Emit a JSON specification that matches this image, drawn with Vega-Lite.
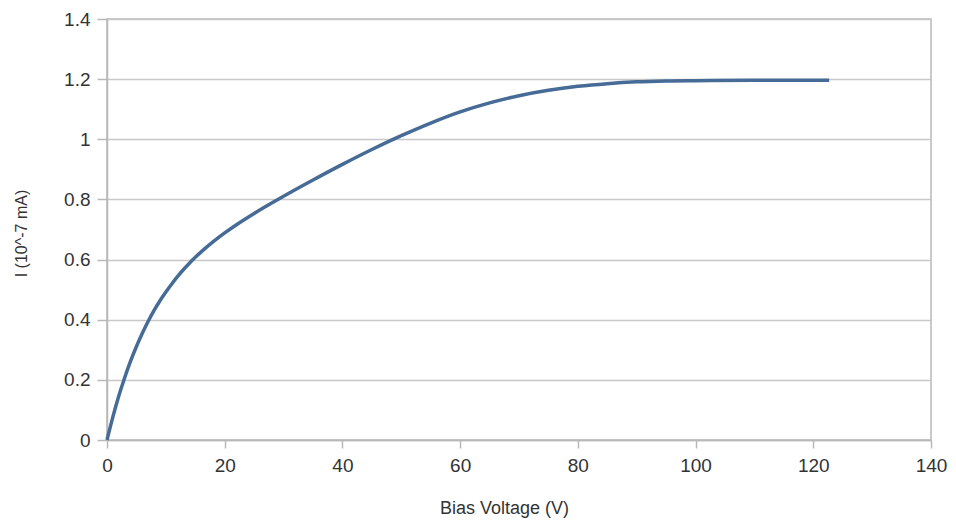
{
  "$schema": "https://vega.github.io/schema/vega-lite/v6.json",
  "autosize": "none",
  "padding": {"left": 107, "top": 19, "right": 25, "bottom": 89},
  "width": 824,
  "height": 421,
  "background": "white",
  "config": {
    "view": {"stroke": "#b8b8b8", "strokeWidth": 1.5},
    "font": "Liberation Sans"
  },
  "data": {
    "values": [
      {"v": 0, "i": 0},
      {"v": 1, "i": 0.077},
      {"v": 2, "i": 0.146},
      {"v": 3, "i": 0.207},
      {"v": 4, "i": 0.262},
      {"v": 5, "i": 0.311},
      {"v": 6, "i": 0.355},
      {"v": 7, "i": 0.395},
      {"v": 8, "i": 0.431},
      {"v": 9, "i": 0.463},
      {"v": 10, "i": 0.492},
      {"v": 11, "i": 0.519},
      {"v": 12, "i": 0.544},
      {"v": 13, "i": 0.567},
      {"v": 14, "i": 0.588},
      {"v": 15, "i": 0.6075},
      {"v": 16, "i": 0.6255},
      {"v": 18, "i": 0.6585},
      {"v": 20, "i": 0.6885},
      {"v": 22, "i": 0.716},
      {"v": 25, "i": 0.7535},
      {"v": 30, "i": 0.8105},
      {"v": 35, "i": 0.8645},
      {"v": 40, "i": 0.9165},
      {"v": 45, "i": 0.966},
      {"v": 50, "i": 1.012},
      {"v": 55, "i": 1.054},
      {"v": 60, "i": 1.091},
      {"v": 65, "i": 1.121},
      {"v": 70, "i": 1.145},
      {"v": 75, "i": 1.163},
      {"v": 80, "i": 1.176},
      {"v": 85, "i": 1.185},
      {"v": 90, "i": 1.191},
      {"v": 95, "i": 1.194},
      {"v": 100, "i": 1.195},
      {"v": 110, "i": 1.196},
      {"v": 122.7, "i": 1.196}
    ]
  },
  "mark": {"type": "line", "interpolate": "monotone", "color": "#466b96", "strokeWidth": 3.5},
  "encoding": {
    "x": {
      "field": "v",
      "type": "quantitative",
      "scale": {"domain": [0, 140], "nice": false},
      "axis": {
        "title": "Bias Voltage (V)",
        "values": [0, 20, 40, 60, 80, 100, 120, 140],
        "grid": false,
        "domainColor": "#b8b8b8",
        "domainWidth": 1.5,
        "tickColor": "#b8b8b8",
        "tickWidth": 1.5,
        "tickSize": 8,
        "labelFontSize": 19,
        "labelColor": "#333333",
        "labelPadding": 8,
        "labelFlush": false,
        "titleFontSize": 18,
        "titleFontWeight": "normal",
        "titleColor": "#333333",
        "titleX": 397,
        "titleY": 68,
        "titleBaseline": "middle"
      }
    },
    "y": {
      "field": "i",
      "type": "quantitative",
      "scale": {"domain": [0, 1.4], "nice": false},
      "axis": {
        "title": "I (10^-7 mA)",
        "values": [0, 0.2, 0.4, 0.6, 0.8, 1, 1.2, 1.4],
        "format": "~g",
        "grid": true,
        "gridColor": "#c8c8c8",
        "gridWidth": 1.5,
        "domainColor": "#b8b8b8",
        "domainWidth": 1.5,
        "tickColor": "#b8b8b8",
        "tickWidth": 1.5,
        "tickSize": 10,
        "labelFontSize": 19,
        "labelColor": "#333333",
        "labelPadding": 7,
        "labelFlush": false,
        "titleFontSize": 16,
        "titleFontWeight": "normal",
        "titleColor": "#333333",
        "titleX": -86,
        "titleY": 214,
        "titleAngle": -90,
        "titleBaseline": "middle",
        "titleAlign": "center"
      }
    }
  }
}
